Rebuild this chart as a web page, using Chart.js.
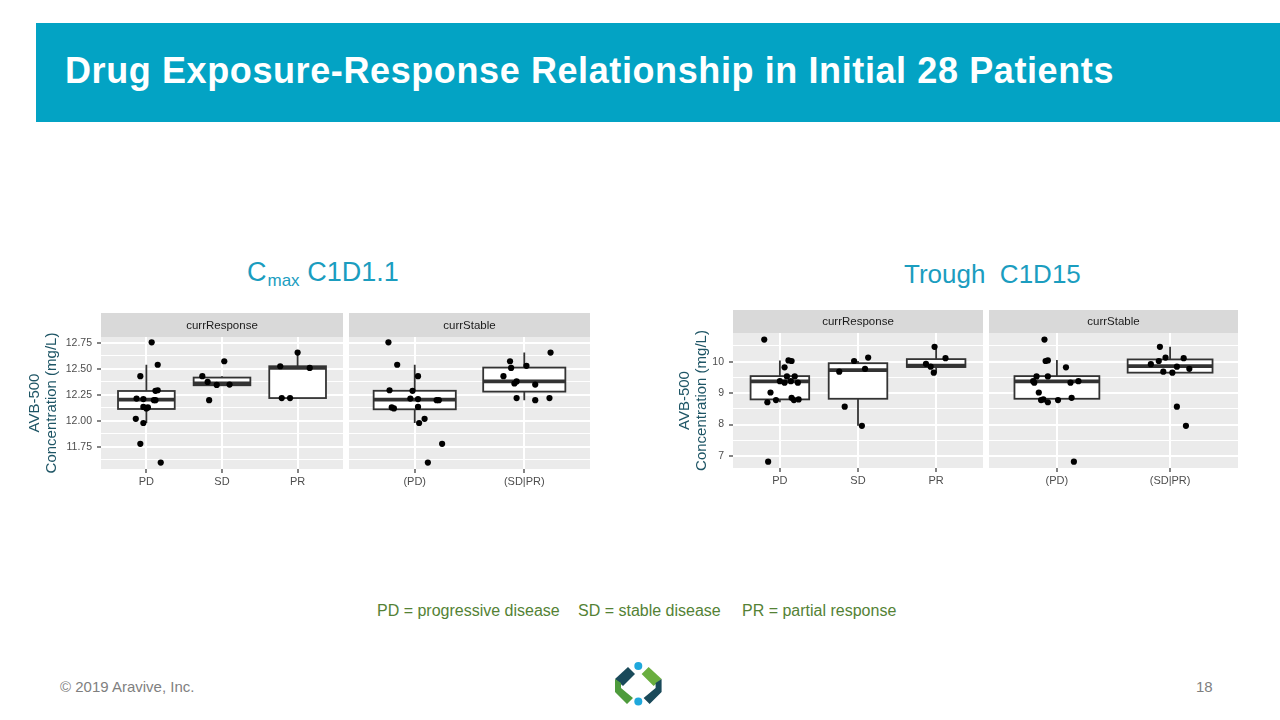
<!DOCTYPE html>
<html><head><meta charset="utf-8">
<script src="https://cdn.jsdelivr.net/npm/chart.js@4"></script>
<style>
body{margin:0;width:1280px;height:720px;position:relative;background:#fff;font-family:"Liberation Sans",Arial,sans-serif;overflow:hidden}
.abs{position:absolute;white-space:pre;line-height:1}
#banner{left:36px;top:23px;width:1244px;height:99px;background:#03A3C4}
#title{left:65px;top:53px;color:#fff;font-weight:bold;font-size:36px;letter-spacing:0.6px}
.sub{color:#1B9DBF;font-size:26px}
.foot{color:#548235;font-size:16px;top:603px}
.gray{color:#7F7F7F;font-size:15px;top:679px}
canvas{position:absolute}
</style></head>
<body>
<div id="banner" class="abs"></div>
<div id="title" class="abs">Drug Exposure-Response Relationship in Initial 28 Patients</div>
<div class="abs sub" style="left:247px;top:259px;font-size:27px">C<span style="font-size:17px;position:relative;top:5px;margin-left:1px">max</span> C1D1.1</div>
<div class="abs sub" style="left:904px;top:261px">Trough  C1D15</div>

<canvas id="c1" width="323" height="186" style="left:20px;top:313px"></canvas>
<canvas id="c2" width="241" height="186" style="left:349px;top:313px"></canvas>
<canvas id="c3" width="313" height="188" style="left:670px;top:310px"></canvas>
<canvas id="c4" width="249" height="188" style="left:989px;top:310px"></canvas>

<div class="abs foot" style="left:377px">PD = progressive disease</div>
<div class="abs foot" style="left:578px">SD = stable disease</div>
<div class="abs foot" style="left:742px">PR = partial response</div>
<div class="abs gray" style="left:60px">© 2019 Aravive, Inc.</div>
<div class="abs gray" style="left:1196px">18</div>
<svg class="abs" style="left:610px;top:660px" width="60" height="50" viewBox="610 660 60 50">
 <circle cx="638.3" cy="666" r="4" fill="#1FA8DC"/>
 <circle cx="638.3" cy="701.5" r="4" fill="#1FA8DC"/>
 <polygon points="628,667 635,674 623,686 615,679" fill="#1A4A5A"/>
 <polygon points="615,679 621,683 621,688 633,698 627,704 615,692" fill="#4E9B3C"/>
 <polygon points="648.6,667 641.6,674 653.6,686 661.6,679" fill="#6AAE3F"/>
 <polygon points="661.6,679 655.6,683 655.6,688 643.6,698 649.6,704 661.6,692" fill="#1A4A5A"/>
</svg>

<script>
// ---------------- DATA ----------------
const respCats = ['PD', 'SD', 'PR'];
const stableCats = ['(PD)', '(SD|PR)'];

// Cmax C1D1.1 (mg/L)
const cmaxTicks = [11.625, 11.75, 11.875, 12.0, 12.125, 12.25, 12.375, 12.5, 12.625, 12.75];
const cmaxMajors = [11.75, 12.0, 12.25, 12.5, 12.75];
const cmaxPD   = [12.756, 12.54, 12.43, 12.295, 12.29, 12.215, 12.21, 12.20, 12.20, 12.135, 12.13, 12.12, 12.02, 11.98, 11.78, 11.60];
const cmaxSD   = [12.574, 12.43, 12.375, 12.35, 12.346, 12.20];
const cmaxPR   = [12.657, 12.526, 12.51, 12.22, 12.22];
const cmaxSDPR = [12.657, 12.574, 12.53, 12.51, 12.43, 12.38, 12.36, 12.35, 12.22, 12.22, 12.20];
// box stats: [lower whisker, Q1, median, Q3, upper whisker]
const cmaxRespBoxes   = [[11.98, 12.115, 12.205, 12.288, 12.54], [12.346, 12.343, 12.36, 12.417, 12.43], [12.22, 12.22, 12.51, 12.526, 12.657]];
const cmaxStableBoxes = [[11.98, 12.112, 12.205, 12.29, 12.54], [12.20, 12.282, 12.381, 12.513, 12.657]];

// Trough C1D15 (mg/L)
const troughTicks = [7, 7.5, 8, 8.5, 9, 9.5, 10, 10.5];
const troughMajors = [7, 8, 9, 10];
const troughPD   = [10.70, 10.04, 10.02, 9.82, 9.53, 9.53, 9.38, 9.33, 9.38, 9.33, 9.02, 8.71, 8.78, 8.85, 8.78, 8.80, 6.82];
const troughSD   = [10.02, 10.13, 9.68, 9.77, 8.57, 7.96];
const troughPR   = [10.47, 10.11, 9.93, 9.84, 9.65];
const troughSDPR = [10.47, 10.13, 10.11, 10.02, 9.92, 9.84, 9.77, 9.68, 9.65, 8.57, 7.96];
const troughRespBoxes   = [[8.71, 8.80, 9.37, 9.54, 10.04], [7.96, 8.82, 9.73, 9.95, 10.02], [9.65, 9.83, 9.87, 10.08, 10.47]];
const troughStableBoxes = [[8.71, 8.82, 9.37, 9.54, 10.05], [9.65, 9.65, 9.86, 10.07, 10.47]];

// horizontal jitter (category units) as seen in the picture
const jitCmaxPD_A   = [0.07, 0.15, -0.08, 0.15, 0.12, -0.13, -0.04, 0.12, 0.10, -0.04, 0.02, 0.0, -0.14, -0.04, -0.08, 0.19];
const jitCmaxSD     = [0.03, -0.26, -0.19, 0.10, -0.07, -0.17];
const jitCmaxPR     = [0.0, -0.23, 0.16, -0.21, -0.10];
const jitCmaxPD_B   = [-0.24, -0.16, 0.03, -0.23, -0.02, -0.04, 0.03, 0.20, 0.22, 0.03, -0.21, -0.19, 0.09, 0.04, 0.25, 0.12];
const jitCmaxSDPR   = [0.24, -0.13, 0.02, -0.12, -0.19, -0.07, -0.09, 0.10, -0.07, 0.23, 0.10];
const jitTrPD_A     = [-0.20, 0.11, 0.15, 0.06, 0.09, 0.19, 0.0, 0.06, 0.14, 0.23, -0.12, -0.16, -0.05, 0.15, 0.18, 0.24, -0.15];
const jitTrSD       = [-0.05, 0.13, -0.24, 0.09, -0.17, 0.05];
const jitTrPR       = [-0.02, 0.12, -0.13, -0.07, -0.03];
const jitTrPD_B     = [-0.11, -0.08, -0.10, 0.08, -0.18, -0.08, -0.21, -0.20, 0.19, 0.12, -0.16, -0.08, -0.14, 0.13, 0.01, -0.12, 0.15];
const jitTrSDPR     = [-0.09, -0.04, 0.12, -0.10, -0.17, 0.06, 0.17, -0.06, 0.02, 0.06, 0.14];

// ---------------- RENDER ----------------
const FONT = '"Liberation Sans", Arial, sans-serif';

function facetPlugin(strip, stripH, boxes) {
  return {
    id: 'facet',
    beforeDraw(chart) {
      const {ctx, chartArea: a} = chart;
      ctx.save();
      ctx.fillStyle = '#EBEBEB';
      ctx.fillRect(a.left, a.top, a.right - a.left, a.bottom - a.top);
      ctx.fillStyle = '#D9D9D9';
      ctx.fillRect(a.left, a.top - stripH, a.right - a.left, stripH);
      ctx.fillStyle = '#1A1A1A';
      ctx.font = '11.5px ' + FONT;
      ctx.textAlign = 'center';
      ctx.textBaseline = 'middle';
      ctx.fillText(strip, (a.left + a.right) / 2, a.top - stripH / 2 + 0.5);
      ctx.restore();
    },
    beforeDatasetsDraw(chart) {
      const {ctx, scales: {x, y}} = chart;
      const hw = 0.375;
      ctx.save();
      ctx.strokeStyle = '#333333';
      boxes.forEach((b, i) => {
        const [lo, q1, med, q3, hi] = b;
        const xl = x.getPixelForValue(i - hw), xr = x.getPixelForValue(i + hw), xc = x.getPixelForValue(i);
        const yLo = y.getPixelForValue(lo), yQ1 = y.getPixelForValue(q1), yM = y.getPixelForValue(med),
              yQ3 = y.getPixelForValue(q3), yHi = y.getPixelForValue(hi);
        ctx.lineWidth = 1.8;
        ctx.beginPath();
        ctx.moveTo(xc, yQ3); ctx.lineTo(xc, yHi);
        ctx.moveTo(xc, yQ1); ctx.lineTo(xc, yLo);
        ctx.stroke();
        ctx.fillStyle = '#FFFFFF';
        ctx.fillRect(xl, yQ3, xr - xl, yQ1 - yQ3);
        ctx.strokeRect(xl, yQ3, xr - xl, yQ1 - yQ3);
        ctx.lineWidth = 3.8;
        ctx.beginPath();
        ctx.moveTo(xl, yM); ctx.lineTo(xr, yM);
        ctx.stroke();
      });
      ctx.restore();
    }
  };
}

function pts(vals, jit, idx) {
  return vals.map((v, k) => ({x: idx + jit[k], y: v}));
}

function makeChart(id, cfg) {
  const n = cfg.cats.length;
  const isMajor = v => cfg.majors.some(m => Math.abs(m - v) < 1e-6);
  const yScale = {
    type: 'linear', min: cfg.yMin, max: cfg.yMax,
    afterBuildTicks: s => { s.ticks = cfg.ticks.map(v => ({value: v})); },
    afterFit: s => { s.width = cfg.yWidth; },
    border: {display: false},
    grid: {
      color: '#FFFFFF',
      lineWidth: c => (c.tick && isMajor(c.tick.value)) ? 2 : 1,
      drawTicks: cfg.showY,
      tickLength: 4,
      tickWidth: 1.2,
      tickColor: c => (c.tick && isMajor(c.tick.value)) ? '#333333' : 'rgba(0,0,0,0)'
    },
    ticks: {
      display: cfg.showY,
      autoSkip: false,
      color: '#4D4D4D',
      font: {size: 10.5, family: FONT},
      padding: 5,
      callback: v => isMajor(v) ? cfg.fmt(v) : ''
    },
    title: {
      display: cfg.showY,
      text: ['AVB-500', 'Concentration (mg/L)'],
      color: '#1E5565',
      font: {size: 15, family: FONT, lineHeight: 1.13},
      padding: {top: 6, bottom: 0}
    }
  };
  const datasets = cfg.groups.map(g => ({
    data: pts(g[0], g[1], g[2]),
    backgroundColor: '#000000',
    borderWidth: 0,
    pointRadius: 3.1,
    pointHoverRadius: 3.1
  }));
  return new Chart(document.getElementById(id), {
    type: 'scatter',
    data: {datasets},
    plugins: [facetPlugin(cfg.strip, cfg.stripH, cfg.boxes)],
    options: {
      responsive: false,
      animation: false,
      events: [],
      layout: {autoPadding: false, padding: {top: cfg.stripH, left: 0, right: 0, bottom: 0}},
      plugins: {legend: {display: false}, tooltip: {enabled: false}},
      scales: {
        x: {
          type: 'linear', min: -0.6, max: n - 0.4,
          afterBuildTicks: s => { s.ticks = cfg.cats.map((c, i) => ({value: i})); },
          afterFit: s => { s.height = 30; },
          border: {display: false},
          grid: {color: '#FFFFFF', lineWidth: 2, tickLength: 4, tickWidth: 1.2, tickColor: '#333333'},
          ticks: {
            color: '#4D4D4D', font: {size: 11, family: FONT}, padding: 2,
            maxRotation: 0, autoSkip: false,
            callback: v => cfg.cats[Math.round(v)]
          }
        },
        y: yScale
      }
    }
  });
}

const fmt2 = v => v.toFixed(2);
const fmt0 = v => String(Math.round(v));

makeChart('c1', {cats: respCats, strip: 'currResponse', stripH: 24, yMin: 11.538, yMax: 12.807,
  ticks: cmaxTicks, majors: cmaxMajors, fmt: fmt2, showY: true, yWidth: 81,
  boxes: cmaxRespBoxes,
  groups: [[cmaxPD, jitCmaxPD_A, 0], [cmaxSD, jitCmaxSD, 1], [cmaxPR, jitCmaxPR, 2]]});
makeChart('c2', {cats: stableCats, strip: 'currStable', stripH: 24, yMin: 11.538, yMax: 12.807,
  ticks: cmaxTicks, majors: cmaxMajors, fmt: fmt2, showY: false, yWidth: 0,
  boxes: cmaxStableBoxes,
  groups: [[cmaxPD, jitCmaxPD_B, 0], [cmaxSDPR, jitCmaxSDPR, 1]]});
makeChart('c3', {cats: respCats, strip: 'currResponse', stripH: 23, yMin: 6.62, yMax: 10.91,
  ticks: troughTicks, majors: troughMajors, fmt: fmt0, showY: true, yWidth: 63,
  boxes: troughRespBoxes,
  groups: [[troughPD, jitTrPD_A, 0], [troughSD, jitTrSD, 1], [troughPR, jitTrPR, 2]]});
makeChart('c4', {cats: stableCats, strip: 'currStable', stripH: 23, yMin: 6.62, yMax: 10.91,
  ticks: troughTicks, majors: troughMajors, fmt: fmt0, showY: false, yWidth: 0,
  boxes: troughStableBoxes,
  groups: [[troughPD, jitTrPD_B, 0], [troughSDPR, jitTrSDPR, 1]]});
</script>
</body></html>
